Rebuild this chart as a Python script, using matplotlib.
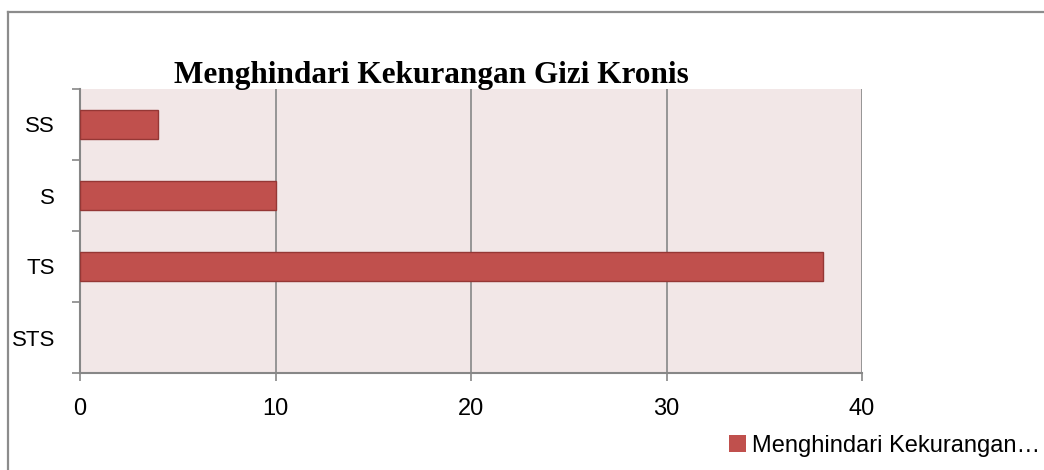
import numpy as np
import matplotlib.pyplot as plt
from matplotlib.lines import Line2D

# data (bottom to top)
kategori = ['STS', 'TS', 'S', 'SS']
nilai = [0, 38, 10, 4]
xticks = [0, 10, 20, 30, 40]
judul = 'Menghindari Kekurangan Gizi Kronis'
nama_seri = 'Menghindari Kekurangan\u2026'

abu = '#878787'
fig = plt.figure(figsize=(10.44, 4.7), dpi=100)

# outer frame (only top and left visible)
fig.add_artist(Line2D([8/1044, 1.0], [1 - 11.5/470, 1 - 11.5/470], color='#8c8c8c', lw=1.6,
                      transform=fig.transFigure))
fig.add_artist(Line2D([8/1044, 8/1044], [0.0, 1 - 11.5/470], color='#8c8c8c', lw=1.6,
                      transform=fig.transFigure))

ax = fig.add_axes([80/1044, 1 - 373/470, 782/1044, 284/470])
ax.set_facecolor('#f2e7e7')

y = np.arange(len(kategori))
bars = ax.barh(y, nilai, height=0.42, color='#c0504d', edgecolor='#953735', lw=1.0,
               label=nama_seri, zorder=3)
for b, v in zip(bars, nilai):
    if v == 0:
        b.set_edgecolor('none')

ax.set_xlim(0, 40)
ax.set_ylim(-0.5, len(kategori) - 0.5)
ax.set_xticks(xticks)
ax.set_xticklabels([str(v) for v in xticks], fontsize=17, family='Liberation Sans')
ax.set_yticks(y)
ax.set_yticklabels(kategori, fontsize=16, family='Liberation Sans')
ax.set_yticks(np.arange(-0.5, len(kategori), 1.0), minor=True)
ax.tick_params(axis='y', which='major', length=0, pad=18)
ax.tick_params(axis='y', which='minor', length=6, width=1.2, color=abu, direction='out')
ax.tick_params(axis='x', length=6, width=1.2, color=abu, direction='out', pad=12)

ax.grid(axis='x', color=abu, lw=1.2, zorder=1)
ax.set_axisbelow(True)
for s in ['top', 'right']:
    ax.spines[s].set_visible(False)
for s in ['left', 'bottom']:
    ax.spines[s].set_color(abu)
    ax.spines[s].set_linewidth(1.5)

fig.text(431/1044, 1 - 82.5/470, judul, ha='center', va='baseline', fontsize=22.5,
         fontweight='bold', family='Liberation Serif', zorder=10)

fig.legend(handles=[bars], loc='lower right', bbox_to_anchor=(1.014, -0.012),
           frameon=False, handlelength=0.7, handleheight=0.7,
           handletextpad=0.25, borderpad=0.3, prop={'family': 'Liberation Sans', 'size': 17})

fig.savefig('out.png', dpi=100)
